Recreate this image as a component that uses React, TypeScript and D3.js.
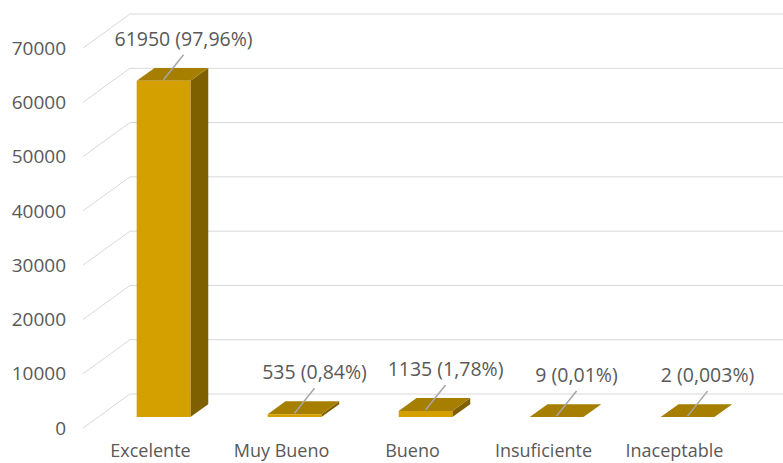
import React, { useEffect, useRef } from "react";
import * as d3 from "d3";

const categories = ["Excelente", "Muy Bueno", "Bueno", "Insuficiente", "Inaceptable"];
const values = [61950, 535, 1135, 9, 2];
const labels = ["61950 (97,96%)", "535 (0,84%)", "1135 (1,78%)", "9 (0,01%)", "2 (0,003%)"];
const ticks = [0, 10000, 20000, 30000, 40000, 50000, 60000, 70000];

const W = 783;
const H = 463;
const FONT = "'Open Sans', 'Liberation Sans', sans-serif";
const TEXT = "#595959";

export default function App() {
  const ref = useRef<SVGSVGElement | null>(null);

  useEffect(() => {
    const svg = d3.select(ref.current);
    svg.selectAll("*").remove();

    // oblique 3d: full depth vector
    const DX = 47;
    const DY = -34;
    const x = d3.scaleBand<string>().domain(categories).range([83, 738]).padding(0);
    const y = d3.scaleLinear().domain([0, 70000]).range([428, 48]);
    const p = (sx: number, sy: number, z: number): [number, number] => [sx + z * DX, sy + z * DY];

    // gridlines: side wall diagonal + back wall horizontal
    const grid = svg.append("g").attr("stroke", "#D9D9D9").attr("stroke-width", 1).attr("fill", "none");
    ticks.forEach((t) => {
      const a = p(83, y(t), 0);
      const b = p(83, y(t), 1);
      grid.append("path").attr("d", d3.line()([a, b, [W + 5, b[1]]]));
    });

    svg
      .append("g")
      .selectAll("text")
      .data(ticks)
      .enter()
      .append("text")
      .attr("x", 66)
      .attr("y", (d) => y(d))
      .attr("dy", "0.35em")
      .attr("text-anchor", "end")
      .attr("font-family", FONT)
      .attr("font-size", 19)
      .attr("fill", TEXT)
      .text((d) => d);

    // bars
    const z0 = 0.32;
    const z1 = 0.7;
    const frac = 0.41;
    const bars = svg.append("g");
    categories.forEach((c, i) => {
      const bw = x.bandwidth() * frac;
      const x0 = (x(c) as number) + (x.bandwidth() - bw) / 2;
      const x1 = x0 + bw;
      const yb = y(0);
      const yt = y(values[i]);
      const poly = (pts: [number, number][]) => "M" + pts.map((q) => q.join(",")).join("L") + "Z";
      // side
      bars
        .append("path")
        .attr("d", poly([p(x1, yb, z0), p(x1, yt, z0), p(x1, yt, z1), p(x1, yb, z1)]))
        .attr("fill", "#7F6000");
      // top
      bars
        .append("path")
        .attr("d", poly([p(x0, yt, z0), p(x1, yt, z0), p(x1, yt, z1), p(x0, yt, z1)]))
        .attr("fill", "#A67E00");
      // front
      bars
        .append("path")
        .attr("d", poly([p(x0, yb, z0), p(x1, yb, z0), p(x1, yt, z0), p(x0, yt, z0)]))
        .attr("fill", "#D4A000");

      // leader + data label
      const [cx, cy] = p((x0 + x1) / 2, yt, z0);
      bars
        .append("line")
        .attr("x1", cx)
        .attr("y1", cy - 1)
        .attr("x2", cx + 20)
        .attr("y2", cy - 26)
        .attr("stroke", "#A6A6A6")
        .attr("stroke-width", 1.5);
      bars
        .append("text")
        .attr("x", cx + 20)
        .attr("y", cy - 35)
        .attr("text-anchor", "middle")
        .attr("font-family", FONT)
        .attr("font-size", 19.5)
        .attr("fill", TEXT)
        .text(labels[i]);
    });

    // category labels
    svg
      .append("g")
      .selectAll("text")
      .data(categories)
      .enter()
      .append("text")
      .attr("x", (d) => (x(d) as number) + x.bandwidth() / 2 + 2)
      .attr("y", 457)
      .attr("text-anchor", "middle")
      .attr("font-family", FONT)
      .attr("font-size", 18)
      .attr("fill", TEXT)
      .text((d) => d);
  }, []);

  return (
    <svg
      ref={ref}
      width={W}
      height={H}
      style={{ position: "absolute", left: 0, top: 0, background: "#fff" }}
    />
  );
}
